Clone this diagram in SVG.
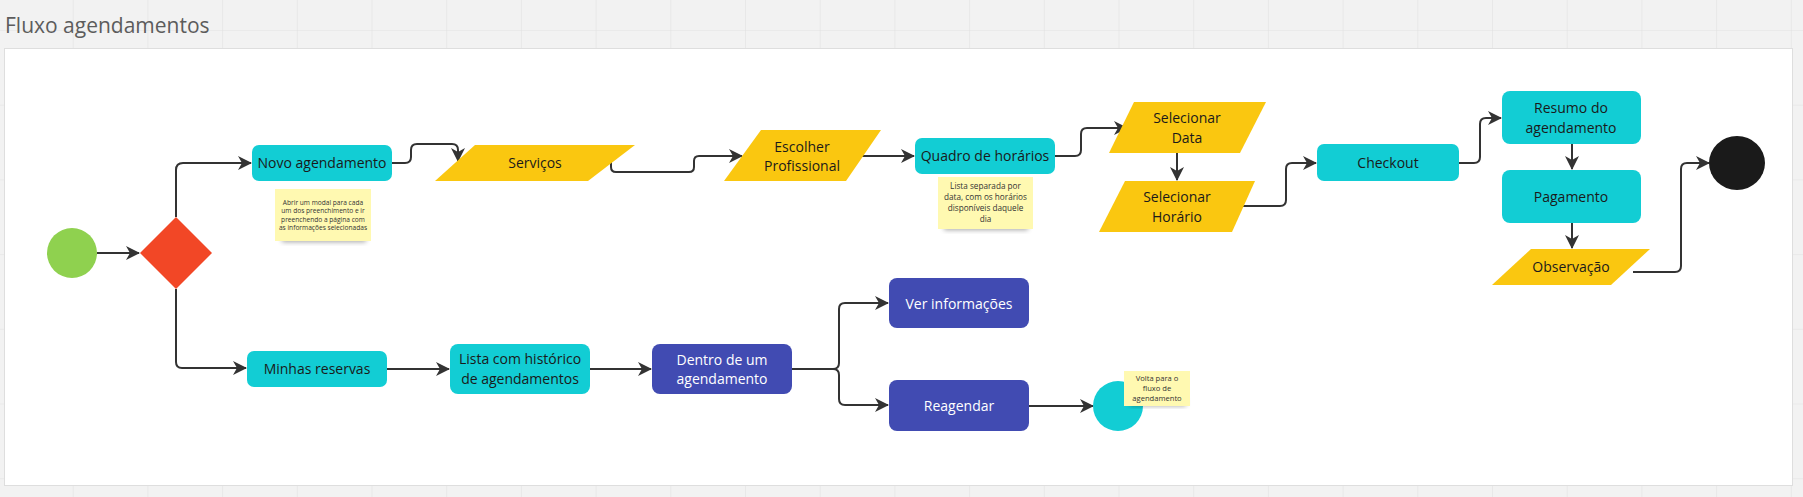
<svg xmlns="http://www.w3.org/2000/svg" width="1803" height="497" viewBox="0 0 1803 497">
<defs>
<pattern id="grid" x="-2" y="30" width="74.7" height="74.7" patternUnits="userSpaceOnUse">
<path d="M0,0 H74.7 M0,0 V74.7" fill="none" stroke="#e2e2e2" stroke-width="1.2"/>
</pattern>
<marker id="arr" markerWidth="14" markerHeight="14" refX="13" refY="7" orient="auto" markerUnits="userSpaceOnUse">
<path d="M0,0 L14,7 L0,14 L4,7 z" fill="#333333"/>
</marker>
<filter id="sh" x="-20%" y="-20%" width="140%" height="160%">
<feGaussianBlur stdDeviation="2.5"/>
</filter>
<style>
.t{font-family:"Open Sans","Liberation Sans",sans-serif;font-size:14px;fill:#1a1a1a;text-anchor:middle}
.w{fill:#ffffff}
.n{font-family:"Open Sans","Liberation Sans",sans-serif;fill:#333333;text-anchor:middle}
.teal{fill:#12cdd4}
.yel{fill:#fac710}
.blue{fill:#414bb2}
.sticky{fill:#fff9b1}
.shadow{fill:#000000;opacity:0.35;filter:url(#sh)}
.c{fill:none;stroke:#333333;stroke-width:2;marker-end:url(#arr)}
</style>
</defs>
<rect x="0" y="0" width="1803" height="497" fill="#f2f2f2"/>
<rect x="0" y="0" width="1803" height="497" fill="url(#grid)"/>
<text x="5" y="33" font-family="'Open Sans','Liberation Sans',sans-serif" font-size="21" fill="#5c5c5c">Fluxo agendamentos</text>
<rect x="4.5" y="48.5" width="1788" height="437" fill="#ffffff" stroke="#dedede" stroke-width="1"/>

<g id="connectors">
<path class="c" d="M97,253 H139"/>
<path class="c" d="M176,217 V170 Q176,163 183,163 H251"/>
<path class="c" d="M392,163 H405 Q411,163 411,157 V150 Q411,144 417,144 H452 Q458,144 458,150 V161"/>
<path class="c" d="M611,162 V167 Q611,172 616,172 H689 Q694,172 694,167 V161 Q694,156 699,156 H742"/>
<path class="c" d="M862,156 H914"/>
<path class="c" d="M1055,156 H1075 Q1081,156 1081,150 V134 Q1081,128 1087,128 H1127"/>
<path class="c" d="M1177,153 V180"/>
<path class="c" d="M1237,206 H1280 Q1286,206 1286,200 V169 Q1286,163 1292,163 H1316"/>
<path class="c" d="M1459,163 H1474 Q1480,163 1480,157 V124 Q1480,118 1486,118 H1501"/>
<path class="c" d="M1572,144 V169"/>
<path class="c" d="M1572,223 V248"/>
<path class="c" d="M1633,272 H1675 Q1681,272 1681,266 V169 Q1681,163 1687,163 H1709"/>
<path class="c" d="M176,289 V362 Q176,368 182,368 H246"/>
<path class="c" d="M387,369 H449"/>
<path class="c" d="M590,369 H651"/>
<path class="c" d="M792,369 H833 Q839,369 839,363 V309 Q839,303 845,303 H888"/>
<path class="c" d="M792,369 H833 Q839,369 839,375 V399 Q839,405 845,405 H888"/>
<path class="c" d="M1029,406 H1093"/>
</g>

<g id="start"><circle cx="72" cy="253" r="25" fill="#8fd14f"/></g>
<g id="decision"><polygon points="176,217 212,253 176,289 140,253" fill="#f24726"/></g>

<g id="novo-agendamento"><rect class="teal" x="252" y="145" width="140" height="36" rx="7"/><text class="t" x="322" y="168">Novo agendamento</text></g>

<g id="note-modal">
<rect class="shadow" x="282" y="234" width="84" height="8"/>
<rect class="sticky" x="275" y="189" width="96" height="52"/>
<text class="n" font-size="6.6"><tspan x="323" y="204.5">Abrir um modal para cada</tspan><tspan x="323" y="213">um dos preenchimento e  ir</tspan><tspan x="323" y="221.5">preenchendo a página com</tspan><tspan x="323" y="230">as informações selecionadas</tspan></text>
</g>

<g id="servicos"><polygon class="yel" points="475,145 635,145 588,181 435,181"/><text class="t" x="535" y="168">Serviços</text></g>

<g id="escolher-profissional"><polygon class="yel" points="761,130 881,130 846,181 724,181"/><text class="t"><tspan x="802" y="152">Escolher</tspan><tspan x="802" y="171">Profissional</tspan></text></g>

<g id="quadro-horarios"><rect class="teal" x="915" y="138" width="140" height="36" rx="7"/><text class="t" x="985" y="161">Quadro de horários</text></g>

<g id="note-quadro">
<rect class="shadow" x="944" y="222" width="84" height="8"/>
<rect class="sticky" x="938" y="177" width="95" height="52"/>
<text class="n" font-size="8.2"><tspan x="985.5" y="189">Lista separada por</tspan><tspan x="985.5" y="200">data, com os horários</tspan><tspan x="985.5" y="211">disponíveis daquele</tspan><tspan x="985.5" y="222">dia</tspan></text>
</g>

<g id="selecionar-data"><polygon class="yel" points="1134,102 1266,102 1240,153 1109,153"/><text class="t"><tspan x="1187" y="123">Selecionar</tspan><tspan x="1187" y="143">Data</tspan></text></g>

<g id="selecionar-horario"><polygon class="yel" points="1125,181 1255,181 1232,232 1099,232"/><text class="t"><tspan x="1177" y="202">Selecionar</tspan><tspan x="1177" y="222">Horário</tspan></text></g>

<g id="checkout"><rect class="teal" x="1317" y="144" width="142" height="37" rx="7"/><text class="t" x="1388" y="168">Checkout</text></g>

<g id="resumo"><rect class="teal" x="1502" y="91" width="139" height="53" rx="8"/><text class="t"><tspan x="1571" y="113">Resumo do</tspan><tspan x="1571" y="133">agendamento</tspan></text></g>

<g id="pagamento"><rect class="teal" x="1502" y="170" width="139" height="53" rx="8"/><text class="t" x="1571" y="202">Pagamento</text></g>

<g id="observacao"><polygon class="yel" points="1531,249 1650,249 1611,285 1492,285"/><text class="t" x="1571" y="272">Observação</text></g>

<g id="end"><ellipse cx="1737" cy="163" rx="28" ry="27" fill="#1a1a1a"/></g>

<g id="minhas-reservas"><rect class="teal" x="247" y="351" width="140" height="36" rx="7"/><text class="t" x="317" y="374">Minhas reservas</text></g>

<g id="lista-historico"><rect class="teal" x="450" y="344" width="140" height="50" rx="8"/><text class="t"><tspan x="520" y="364">Lista com histórico</tspan><tspan x="520" y="384">de agendamentos</tspan></text></g>

<g id="dentro-agendamento"><rect class="blue" x="652" y="344" width="140" height="50" rx="8"/><text class="t w"><tspan x="722" y="365">Dentro de um</tspan><tspan x="722" y="384">agendamento</tspan></text></g>

<g id="ver-informacoes"><rect class="blue" x="889" y="278" width="140" height="50" rx="8"/><text class="t w" x="959" y="309">Ver informações</text></g>

<g id="reagendar"><rect class="blue" x="889" y="380" width="140" height="51" rx="8"/><text class="t w" x="959" y="411">Reagendar</text></g>

<g id="volta-fluxo"><circle class="teal" cx="1118" cy="406" r="25"/></g>

<g id="note-volta">
<rect class="shadow" x="1130" y="399" width="56" height="7"/>
<rect class="sticky" x="1124" y="371" width="66" height="35"/>
<text class="n" font-size="7.6"><tspan x="1157" y="381">Volta para o</tspan><tspan x="1157" y="391">fluxo de</tspan><tspan x="1157" y="401">agendamento</tspan></text>
</g>
</svg>
